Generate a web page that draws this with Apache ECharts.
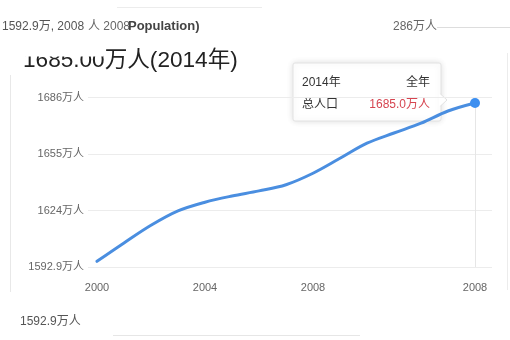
<!DOCTYPE html>
<html>
<head>
<meta charset="utf-8">
<script src="https://cdn.jsdelivr.net/npm/echarts@6/dist/echarts.min.js"></script>
<style>
html,body{margin:0;padding:0;background:#fff;}
#chart{width:510px;height:340px;}
</style>
</head>
<body>
<div id="chart"></div>
<script>
// ---- data ----
const years = ['2000','2001','2002','2003','2004','2005','2006','2007','2008','2009','2010','2011','2012','2013','2014'];
const population = [1596.0, 1606.1, 1615.8, 1623.7, 1628.5, 1631.9, 1634.7, 1638.1, 1644.4, 1652.6, 1660.9, 1666.5, 1671.9, 1678.6, 1683.0];
const xTickYears = ['2000','2004','2008','2014'];
const xTickLabels = ['2000','2004','2008','2008'];
const yTickValues = [1592.9, 1624, 1655, 1686];
const yTickLabels = ['1592.9万人','1624万人','1655万人','1686万人'];
const headerParts = ['1592.9万, 2008', '人 2008', 'Population)'];
const titleText = '1685.00万人(2014年)';
const topRightText = '286万人';
const bottomLeftText = '1592.9万人';
const tipYear = '2014年';
const tipPeriod = '全年';
const tipName = '总人口';
const tipValue = '1685.0万人';

const FONT = '"Liberation Sans", Arial, "Noto Sans CJK SC", sans-serif';
const yMin = yTickValues[0], yMax = yTickValues[yTickValues.length - 1];
const yInterval = (yMax - yMin) / (yTickValues.length - 1);
const lastIdx = population.length - 1;

const chart = echarts.init(document.getElementById('chart'), null, {renderer: 'canvas'});
const gridTop = 97.5, gridBottom = 73;

chart.setOption({
  backgroundColor: '#ffffff',
  animation: false,
  textStyle: {fontFamily: FONT},
  grid: [
    {left: 97, right: 35, top: gridTop, bottom: gridBottom},
    {left: 88, right: 18, top: gridTop, bottom: gridBottom}
  ],
  xAxis: [
    {
      type: 'category', gridIndex: 0, data: years, boundaryGap: false,
      axisLine: {show: false}, axisTick: {show: false}, splitLine: {show: false},
      axisLabel: {
        color: '#666', fontSize: 11, fontFamily: FONT, margin: 15,
        interval: (i, v) => xTickYears.indexOf(v) >= 0,
        formatter: v => { const k = xTickYears.indexOf(v); return k >= 0 ? xTickLabels[k] : ''; }
      }
    },
    {type: 'value', gridIndex: 1, min: 0, max: 1, show: false}
  ],
  yAxis: [
    {type: 'value', gridIndex: 0, min: yMin, max: yMax, show: false},
    {
      type: 'value', gridIndex: 1, min: yMin, max: yMax, interval: yInterval,
      axisLine: {show: false}, axisTick: {show: false},
      splitLine: {show: true, lineStyle: {color: '#ececec', width: 1}},
      axisLabel: {
        color: '#666', fontSize: 11, fontFamily: FONT, margin: 4,
        formatter: v => {
          let best = 0;
          yTickValues.forEach((t, i) => { if (Math.abs(t - v) < Math.abs(yTickValues[best] - v)) best = i; });
          return yTickLabels[best];
        }
      }
    }
  ],
  series: [
    {
      type: 'line', xAxisIndex: 0, yAxisIndex: 0, data: population,
      smooth: 0.35, z: 5,
      symbol: 'circle',
      symbolSize: (v, p) => p.dataIndex === lastIdx ? 10 : 0,
      showSymbol: true,
      lineStyle: {color: '#4a8ee0', width: 3, cap: 'round'},
      itemStyle: {color: '#3d8ff0', borderWidth: 0},
      markLine: {
        silent: true, symbol: 'none', label: {show: false},
        lineStyle: {color: '#e6e6e6', width: 1, type: 'solid'},
        data: [{xAxis: years[lastIdx]}]
      }
    }
  ],
  graphic: [
    // panel edges
    {type: 'line', shape: {x1: 10.5, y1: 75, x2: 10.5, y2: 292}, style: {stroke: '#e8e8e8', lineWidth: 1}},
    {type: 'line', shape: {x1: 117, y1: 7.5, x2: 262, y2: 7.5}, style: {stroke: '#ececec', lineWidth: 1}},
    {type: 'line', shape: {x1: 437, y1: 27.5, x2: 510, y2: 27.5}, style: {stroke: '#dddddd', lineWidth: 1}},
    {type: 'line', shape: {x1: 113, y1: 335.5, x2: 360, y2: 335.5}, style: {stroke: '#e6e6e6', lineWidth: 1}},
    {type: 'line', shape: {x1: 507.5, y1: 53, x2: 507.5, y2: 290}, style: {stroke: '#ececec', lineWidth: 1}},
    // header texts
    {type: 'text', left: 2, top: 21, style: {text: headerParts[0], fill: '#555', font: '12px ' + FONT}},
    {type: 'text', left: 88, top: 21, style: {text: headerParts[1], fill: '#666', font: '12px ' + FONT}},
    {type: 'text', left: 128, top: 20, style: {text: headerParts[2], fill: '#444', font: 'bold 13px ' + FONT}},
    {type: 'text', left: 23, top: 49, z: 10, style: {text: titleText, fill: '#222', font: '22.6px ' + FONT}},
    {type: 'rect', z: 11, shape: {x: 18, y: 40, width: 85, height: 16.5}, style: {fill: '#ffffff'}},
    {type: 'text', left: 393, top: 21, style: {text: topRightText, fill: '#666', font: '12px ' + FONT}},
    {type: 'text', left: 20, top: 316, style: {text: bottomLeftText, fill: '#555', font: '12px ' + FONT}},
    // tooltip box
    {
      type: 'group', z: 20,
      children: [
        {type: 'rect', shape: {x: 293, y: 63, width: 148, height: 58, r: 2},
         style: {fill: '#ffffff', stroke: '#e2e2e2', lineWidth: 1, shadowBlur: 6, shadowColor: 'rgba(0,0,0,0.12)'}},
        {type: 'polygon', shape: {points: [[440.5, 94], [447, 100], [440.5, 106]]}, style: {fill: '#ffffff', stroke: '#e2e2e2'}},
        {type: 'rect', shape: {x: 439, y: 94.5, width: 2, height: 11}, style: {fill: '#ffffff'}},
        {type: 'text', x: 302, y: 83, style: {text: tipYear, fill: '#333', font: '12px ' + FONT, verticalAlign: 'middle'}},
        {type: 'text', x: 430, y: 83, style: {text: tipPeriod, fill: '#333', font: '12px ' + FONT, align: 'right', verticalAlign: 'middle'}},
        {type: 'text', x: 302, y: 105, style: {text: tipName, fill: '#333', font: '12px ' + FONT, verticalAlign: 'middle'}},
        {type: 'text', x: 430, y: 105, style: {text: tipValue, fill: '#d64550', font: '12px ' + FONT, align: 'right', verticalAlign: 'middle'}}
      ]
    }
  ]
});
</script>
</body>
</html>
